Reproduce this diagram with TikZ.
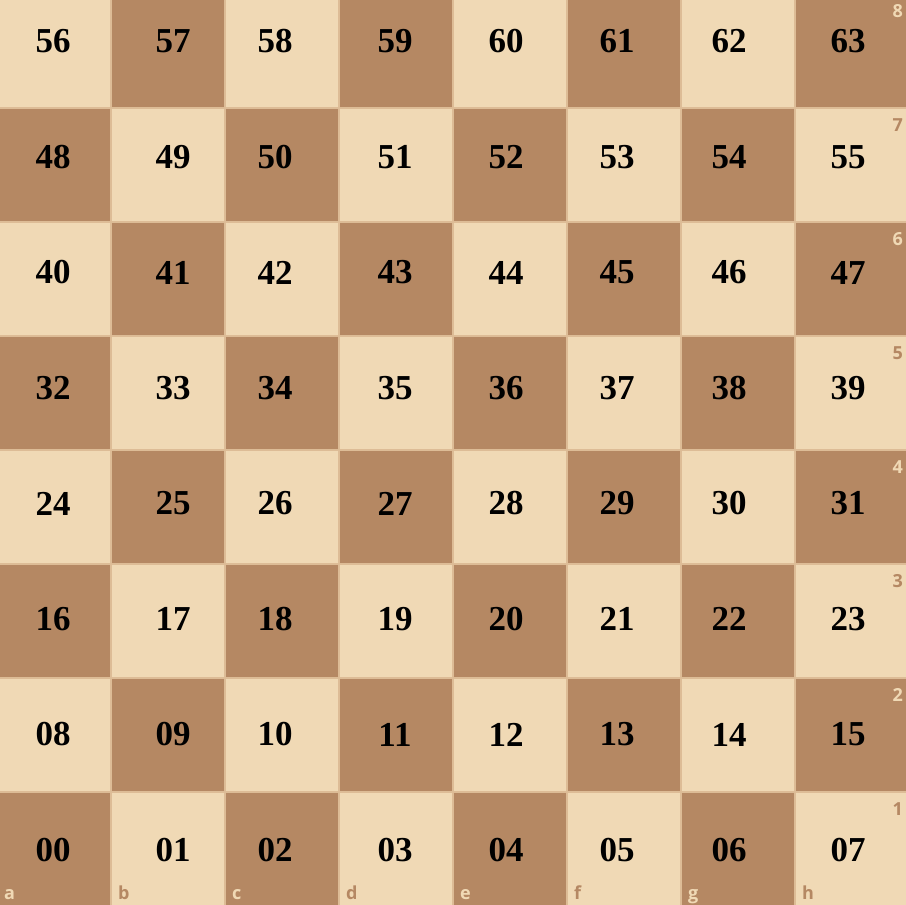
\documentclass[tikz,border=0pt]{standalone}
\usepackage{fontspec}
\setmainfont{Liberation Serif}
\newfontfamily\labfont{Open Sans}
\definecolor{lightsq}{HTML}{F0D9B5}
\definecolor{darksq}{HTML}{B58863}
\definecolor{seam}{HTML}{DDBC96}
\begin{document}
\begin{tikzpicture}[x=1pt,y=-1pt,
  num/.style={font=\fontsize{35}{35}\selectfont\bfseries, inner sep=0pt, text=black},
  lab/.style={font=\labfont\bfseries\fontsize{18}{18}\selectfont, inner sep=0pt},
  seamline/.style={draw=seam, line width=1.2pt}]
\useasboundingbox (0,0) rectangle (906,905);
\begin{scope}
\clip (0,0) rectangle (906,905);
\foreach \i in {0,...,7}{
  \foreach \j in {0,...,7}{
    \pgfmathtruncatemacro\s{mod(\i+\j,2)}
    \ifnum\s=0 \def\sqc{lightsq}\else\def\sqc{darksq}\fi
    \fill[\sqc] ({-3+114*\j},{-6+114*\i}) rectangle ++(114,114);
  }
}
\foreach \k in {1,...,7}{
  \draw[seamline] ({-3+114*\k},0) -- ({-3+114*\k},905);
  \draw[seamline] (0,{-6+114*\k}) -- (906,{-6+114*\k});
}
\end{scope}
\foreach \i in {0,...,7}{
  \foreach \j/\x in {0/53,1/173,2/275,3/395,4/506,5/617,6/729,7/848}{
    \pgfmathtruncatemacro\n{(7-\i)*8+\j}
    \node[num] (n\n) at (\x,{41.5+115.5*\i}) {\ifnum\n<10 0\fi\n};
  }
}
\foreach \i in {0,...,7}{
  \pgfmathtruncatemacro\r{8-\i}
  \ifodd\i \def\lc{darksq}\else\def\lc{lightsq}\fi
  \node[lab, text=\lc, anchor=north east] (r\r) at (903,{4+114*\i}) {\r};
}
\foreach \j/\l in {0/a,1/b,2/c,3/d,4/e,5/f,6/g,7/h}{
  \ifodd\j \def\lc{darksq}\else\def\lc{lightsq}\fi
  \node[lab, text=\lc, anchor=base west] (f\l) at ({4+114*\j},899) {\l};
}
\end{tikzpicture}
\end{document}
